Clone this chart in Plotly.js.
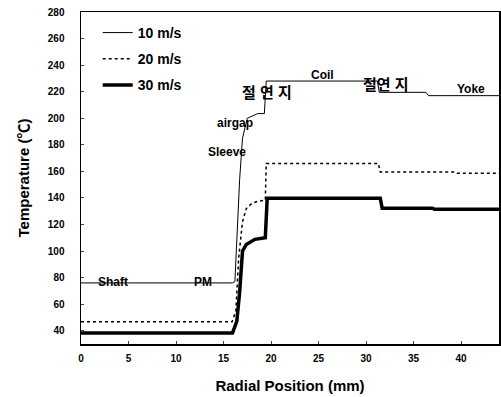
<!DOCTYPE html>
<html><head><meta charset="utf-8">
<script src="https://cdn.plot.ly/plotly-3.0.1.min.js"></script>
<style>html,body{margin:0;padding:0;background:#fff}#c{width:501px;height:397px}</style>
</head><body><div id="c"></div>
<script>
const seriesNames = ['10 m/s', '20 m/s', '30 m/s'];
const x10 = [0, 15.95, 16.2, 16.7, 17.0, 17.5, 18.6, 19.3, 19.5, 31.2, 31.4, 36.3, 36.6, 44];
const y10 = [76, 76, 77, 154, 185, 200, 203.5, 203.5, 228, 228, 219.5, 219.5, 217, 217];
const x20 = [0, 15.9, 16.3, 16.6, 17.0, 17.4, 18.0, 18.6, 19.4, 19.5, 31.3, 31.5, 39.4, 39.6, 44];
const y20 = [46.7, 46.7, 55, 95, 122, 132, 136, 137.5, 138.3, 166, 166, 159.5, 159.5, 158.5, 158.5];
const x30 = [0, 15.95, 16.4, 16.7, 17.0, 17.4, 18.3, 19.1, 19.4, 19.6, 31.5, 31.7, 37.0, 37.2, 44];
const y30 = [38.3, 38.3, 47, 69, 100, 105, 108.8, 109.5, 110, 139.8, 139.8, 132.3, 132.3, 131.5, 131.5];
const xTicks = [0, 5, 10, 15, 20, 25, 30, 35, 40];
const yTicks = [40, 60, 80, 100, 120, 140, 160, 180, 200, 220, 240, 260, 280];
const labelText = ['Shaft', 'PM', 'Sleeve', 'airgap', '절 연 지', 'Coil', '절연 지', 'Yoke'];
const labelX = [3.4, 12.8, 15.4, 16.2, 19.6, 25.4, 32.1, 41.0];
const labelY = [77, 77, 174.7, 196.7, 219.4, 232.3, 225.5, 221.7];
const labelSize = [12, 12, 12, 12, 15, 12, 15, 12];

const fam = 'Liberation Sans, Arial, Noto Sans CJK KR, sans-serif';
const traces = [
  {x: x10, y: y10, name: seriesNames[0], mode: 'lines', legendgroup: 'a', line: {color: '#000', width: 1}},
  {x: x20, y: y20, name: seriesNames[1], mode: 'lines', legendgroup: 'b', line: {color: '#000', width: 1.5, dash: 'dot'}},
  {x: x30, y: y30, name: seriesNames[2], mode: 'lines', legendgroup: 'c', line: {color: '#000', width: 3.5}}
];
const annotations = labelText.map((t, i) => ({
  x: labelX[i], y: labelY[i], xref: 'x', yref: 'y', text: t, showarrow: false,
  font: {family: fam, size: labelSize[i], color: '#000', weight: 'bold'}, xanchor: 'center', yanchor: 'middle'
}));
const layout = {
  width: 501, height: 397,
  margin: {l: 81, r: 2, t: 12, b: 53},
  paper_bgcolor: '#fff', plot_bgcolor: '#fff',
  showlegend: true,
  legend: {x: 0.04, y: 0.985, xanchor: 'left', yanchor: 'top', bgcolor: 'rgba(0,0,0,0)',
    font: {family: fam, size: 14, color: '#000', weight: 'bold'}, traceorder: 'grouped', tracegroupgap: 5},
  xaxis: {range: [0, 44], tickvals: xTicks, showgrid: false, zeroline: false,
    showline: true, linecolor: '#000', linewidth: 1.5, mirror: true, ticks: 'inside', ticklen: 3,
    ticklabelstandoff: 4,
    tickfont: {family: fam, size: 10, color: '#000', weight: 'bold'},
    title: {text: 'Radial Position (mm)', font: {family: fam, size: 15, color: '#000', weight: 'bold'}, standoff: 18}},
  yaxis: {range: [30, 280], tickvals: yTicks, showgrid: false, zeroline: false,
    showline: true, linecolor: '#000', linewidth: 1.5, mirror: true, ticks: 'inside', ticklen: 3,
    ticklabelstandoff: 13,
    tickfont: {family: fam, size: 10, color: '#000', weight: 'bold'},
    title: {text: 'Temperature (℃)', font: {family: fam, size: 15, color: '#000', weight: 'bold'}, standoff: 14}},
  annotations: annotations
};
Plotly.newPlot('c', traces, layout, {staticPlot: true, displayModeBar: false});
</script></body></html>
